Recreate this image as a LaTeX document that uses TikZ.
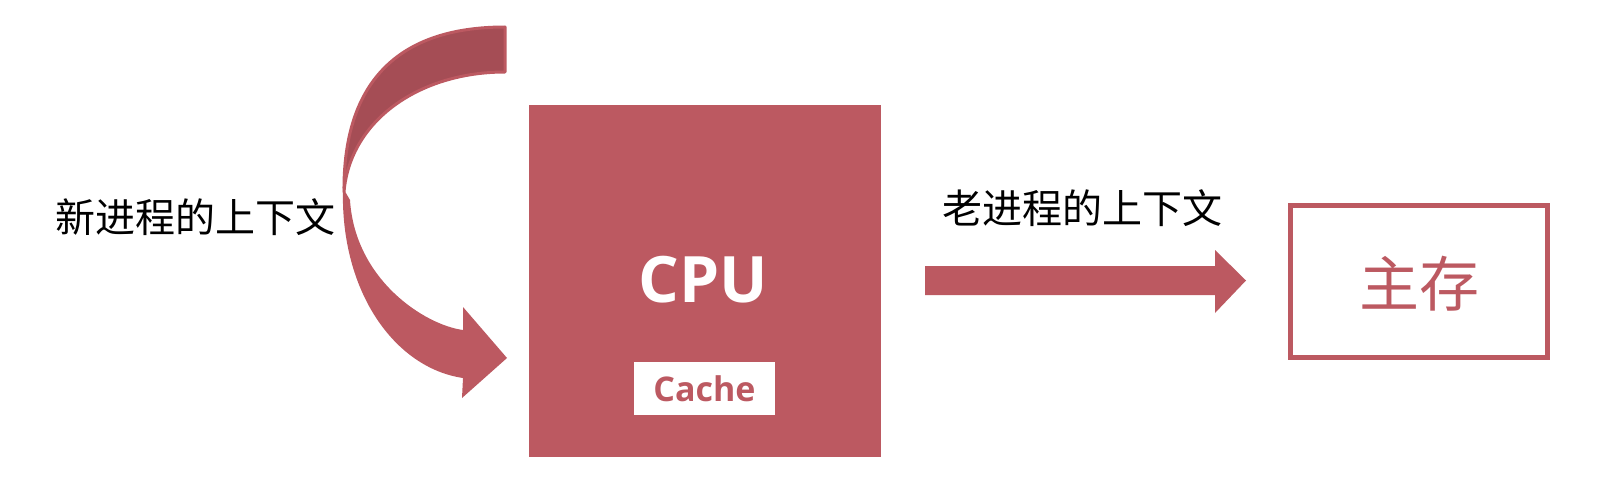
\documentclass[tikz,border=0pt]{standalone}
\usepackage{fontspec}
\setmainfont{Open Sans}
\newfontfamily\cjk{Noto Sans CJK SC}
\definecolor{cpured}{HTML}{BC5961}
\definecolor{cpudark}{HTML}{A54D55}
\begin{document}
\begin{tikzpicture}[x=0.5pt,y=-0.5pt,
  cjklabel/.style={font=\cjk\fontsize{20pt}{24pt}\selectfont, text=black, inner sep=0pt},
  blockfill/.style={fill=cpured, draw=none}]
\useasboundingbox (0,0) rectangle (1602,492);
% CPU
\node[blockfill, minimum width=176pt, minimum height=176pt, inner sep=0pt] (cpu) at (705,281) {};
\node[text=white, font=\bfseries\fontsize{32pt}{36pt}\selectfont, inner sep=0pt] (cputxt) at (703,280) {CPU};
\node[fill=white, minimum width=70.5pt, minimum height=26.5pt, inner sep=0pt] (cachebox) at (704.5,388.5) {};
\node[text=cpured, font=\bfseries\fontsize{17pt}{20pt}\selectfont, inner sep=0pt] (cachetxt) at (cachebox.center) {Cache};
% main memory
\node[draw=cpured, line width=2.5pt, minimum width=128.5pt, minimum height=76pt, inner sep=0pt] (mem) at (1419,281.5) {};
\node[text=cpured, font=\cjk\fontsize{30pt}{34pt}\selectfont, inner sep=0pt] (memtxt) at (1419,284) {主存};
% labels
\node[cjklabel] (newctx) at (195,217) {新进程的上下文};
\node[cjklabel] (oldctx) at (1082,208) {老进程的上下文};
% straight arrow
\fill[cpured] (925,266) -- (1215,266) -- (1215,250) -- (1246,280.5) -- (1215,313) -- (1215,295) -- (925,295) -- cycle;
% curved arrow: back (upper) part
\filldraw[fill=cpudark, draw=cpured, line width=1.5pt, line join=round]
  (505,27) .. controls (400,27) and (343,80) .. (344,192)
  .. controls (350,120) and (420,72) .. (505,72) -- cycle;
% front (lower) part with head
\fill[cpured]
  (343,188) .. controls (340,292) and (395,368) .. (463,378)
  -- (462,398) -- (507,358) -- (463,307) -- (463,330)
  .. controls (425,325) and (355,280) .. (350,200) -- cycle;
\end{tikzpicture}
\end{document}
